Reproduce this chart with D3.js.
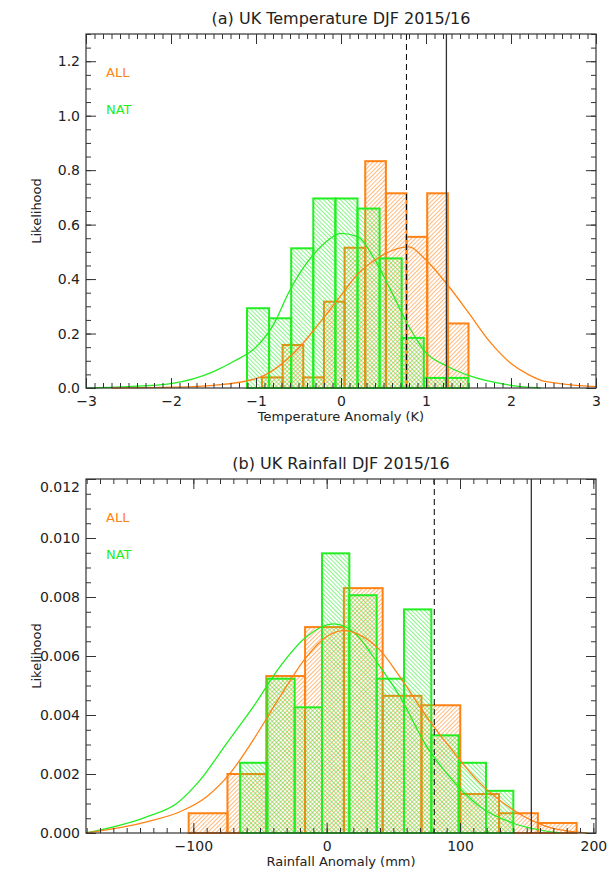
<!DOCTYPE html>
<html>
<head>
<meta charset="utf-8">
<script src="https://cdn.jsdelivr.net/npm/d3@7"></script>
<style>
  body { margin: 0; background: #fff; }
  text { font-family: "DejaVu Sans", sans-serif; fill: #222; }
</style>
</head>
<body>
<svg id="chart" width="609" height="879"></svg>
<script>
// ---- panel (a) temperature ----
const tempAllStart = -0.93, tempAllWidth = 0.243;
const tempAll = [0.039, 0.158, 0.039, 0.317, 0.515, 0.833, 0.715, 0.555, 0.715, 0.237];
const tempNatStart = -1.106, tempNatWidth = 0.26;
const tempNat = [0.293, 0.256, 0.513, 0.696, 0.696, 0.659, 0.476, 0.184, 0.037, 0.037];
const tempNatCurve = [[-3,0],[-2.5,0.005],[-2,0.016],[-1.5,0.06],[-1.25,0.1],[-1,0.15],[-0.8,0.23],[-0.6,0.36],[-0.4,0.46],[-0.2,0.53],[0,0.568],[0.2,0.555],[0.4,0.47],[0.6,0.35],[0.8,0.225],[1,0.13],[1.25,0.08],[1.5,0.046],[2,0.01],[2.35,0]];
const tempAllCurve = [[-2.7,0],[-2,0.003],[-1.5,0.01],[-1,0.034],[-0.5,0.146],[-0.25,0.24],[0,0.34],[0.2,0.42],[0.4,0.47],[0.6,0.505],[0.8,0.518],[1,0.47],[1.25,0.38],[1.5,0.277],[1.75,0.17],[2,0.09],[2.2,0.05],[2.4,0.024],[3,0.005]];
const tempLines = {dashed: 0.77, solid: 1.24};

// ---- panel (b) rainfall ----
const rainAllStart = -103.5, rainAllWidth = 29.1;
const rainAll = [0.00067, 0.002, 0.00532, 0.00698, 0.0083, 0.00465, 0.00433, 0.00132, 0.00067, 0.00034];
const rainNatStart = -65, rainNatWidth = 20.5;
const rainNat = [0.00238, 0.00523, 0.00426, 0.00948, 0.00806, 0.00523, 0.00758, 0.00331, 0.00238, 0.00143];
const rainNatCurve = [[-180.5,0],[-135,0.00055],[-112.5,0.001],[-95,0.00179],[-75,0.00304],[-55,0.00428],[-35,0.00564],[-15,0.00666],[5,0.00709],[20,0.00682],[40,0.00564],[55,0.00462],[75,0.00293],[90,0.00202],[115,0.00089],[140,0.00033],[175,0]];
const rainAllCurve = [[-180.5,0],[-135,0.00038],[-110,0.00072],[-90,0.00123],[-72.5,0.00202],[-55,0.00316],[-35,0.00462],[-15,0.00598],[0,0.00666],[12.5,0.00686],[25,0.00671],[40,0.0062],[55,0.00529],[75,0.00394],[90,0.00304],[115,0.00169],[140,0.00078],[165,0.00022],[195,0]];
const rainLines = {dashed: 80.7, solid: 153.5};

const ORANGE = "#ff8214", GREEN = "#22ee22";

const svg = d3.select("#chart");
const defs = svg.append("defs");
function hatch(id, color, angle) {
  const p = defs.append("pattern").attr("id", id).attr("patternUnits", "userSpaceOnUse")
    .attr("width", 3).attr("height", 3).attr("patternTransform", "rotate(" + angle + ")");
  p.append("line").attr("x1", 0).attr("y1", 0).attr("x2", 0).attr("y2", 3)
    .attr("stroke", color).attr("stroke-width", 1.1);
}
hatch("hatchAll", ORANGE, 45);
hatch("hatchNat", GREEN, -45);

function drawPanel(o) {
  const x = d3.scaleLinear().domain(o.xdom).range([86, 596]);
  const y = d3.scaleLinear().domain(o.ydom).range([o.bottom, o.top]);
  const g = svg.append("g");

  const bars = (vals, start, w, fill, color) => {
    g.selectAll(null).data(vals).enter().append("rect")
      .attr("x", (d, i) => x(start + i * w))
      .attr("width", (d, i) => x(start + (i + 1) * w) - x(start + i * w))
      .attr("y", d => y(d))
      .attr("height", d => y(0) - y(d))
      .attr("fill", fill).attr("stroke", color).attr("stroke-width", 2);
  };
  bars(o.all, o.allStart, o.allW, "url(#hatchAll)", ORANGE);
  bars(o.nat, o.natStart, o.natW, "url(#hatchNat)", GREEN);

  const line = d3.line().x(d => x(d[0])).y(d => y(d[1])).curve(d3.curveMonotoneX);
  g.append("path").attr("d", line(o.natCurve)).attr("fill", "none").attr("stroke", GREEN).attr("stroke-width", 1.3);
  g.append("path").attr("d", line(o.allCurve)).attr("fill", "none").attr("stroke", ORANGE).attr("stroke-width", 1.3);

  g.append("line").attr("x1", x(o.lines.dashed)).attr("x2", x(o.lines.dashed))
    .attr("y1", o.top).attr("y2", o.bottom).attr("stroke", "#000").attr("stroke-dasharray", "6,4");
  g.append("line").attr("x1", x(o.lines.solid)).attr("x2", x(o.lines.solid))
    .attr("y1", o.top).attr("y2", o.bottom).attr("stroke", "#333").attr("stroke-width", 1.3);

  // box + inward ticks on all sides
  g.append("rect").attr("x", 86).attr("y", o.top).attr("width", 510).attr("height", o.bottom - o.top)
    .attr("fill", "none").attr("stroke", "#333").attr("stroke-width", 1.2);
  const tk = (ax, scale, vals, len, fmt, tr) => {
    const a = g.append("g").attr("transform", tr)
      .call(ax(scale).tickValues(vals).tickSize(len).tickSizeOuter(0).tickFormat(fmt));
    a.select(".domain").remove();
    a.selectAll("line").attr("stroke", "#333");
    return a;
  };
  const rng = (a, b, s) => d3.range(Math.round(a / s), Math.round(b / s) + 1).map(i => i * s).filter(v => v >= o.xdom[0] - 1e-9 && v <= o.xdom[1] + 1e-9);
  const xMaj = rng(o.xdom[0], o.xdom[1], o.xMajor), xMin = rng(o.xdom[0], o.xdom[1], o.xMinor);
  const yMaj = d3.range(0, o.ydom[1] + 1e-9, o.yMajor), yMin = d3.range(0, o.ydom[1] + 1e-9, o.yMinor);
  const none = () => "";
  tk(d3.axisBottom, x, xMin, -5, none, `translate(0,${o.bottom})`);
  tk(d3.axisTop, x, xMin, -5, none, `translate(0,${o.top})`);
  tk(d3.axisTop, x, xMaj, -10, none, `translate(0,${o.top})`);
  const bx = tk(d3.axisBottom, x, xMaj, -10, d => d3.format("")(d).replace("-", "\u2212"), `translate(0,${o.bottom})`);
  bx.selectAll("text").attr("y", 8).attr("font-size", 14);
  tk(d3.axisLeft, y, yMin, -5, none, "translate(86,0)");
  tk(d3.axisRight, y, yMin, -5, none, "translate(596,0)");
  tk(d3.axisRight, y, yMaj, -10, none, "translate(596,0)");
  const ly = tk(d3.axisLeft, y, yMaj, -10, d3.format(o.yFmt), "translate(86,0)");
  ly.selectAll("text").attr("x", -6).attr("font-size", 14)
    .attr("dy", d => Math.abs(y(d) - o.top) < 3 ? "0.9em" : "0.32em");

  svg.append("text").attr("x", 341).attr("y", o.top - 10).attr("text-anchor", "middle")
    .attr("font-size", 16).text(o.title);
  svg.append("text").attr("x", 341).attr("y", o.bottom + 33).attr("text-anchor", "middle")
    .attr("font-size", 13).text(o.xlabel);
  svg.append("text").attr("transform", `translate(41,${(o.top + o.bottom) / 2}) rotate(-90)`)
    .attr("text-anchor", "middle").attr("font-size", 13).text("Likelihood");
  svg.append("text").attr("x", 106).attr("y", o.top + 43).attr("font-size", 13).style("fill", ORANGE).text("ALL");
  svg.append("text").attr("x", 106).attr("y", o.top + 80).attr("font-size", 13).style("fill", GREEN).text("NAT");
}

drawPanel({
  xdom: [-3, 3], ydom: [0, 1.3], top: 34, bottom: 388,
  xMajor: 1, xMinor: 0.1, yMajor: 0.2, yMinor: 0.05, yFmt: ".1f",
  all: tempAll, allStart: tempAllStart, allW: tempAllWidth,
  nat: tempNat, natStart: tempNatStart, natW: tempNatWidth,
  allCurve: tempAllCurve, natCurve: tempNatCurve, lines: tempLines,
  title: "(a) UK Temperature DJF 2015/16", xlabel: "Temperature Anomaly (K)"
});
drawPanel({
  xdom: [-180.5, 202], ydom: [0, 0.012], top: 479, bottom: 833,
  xMajor: 100, xMinor: 10, yMajor: 0.002, yMinor: 0.0005, yFmt: ".3f",
  all: rainAll, allStart: rainAllStart, allW: rainAllWidth,
  nat: rainNat, natStart: rainNatStart, natW: rainNatWidth,
  allCurve: rainAllCurve, natCurve: rainNatCurve, lines: rainLines,
  title: "(b) UK Rainfall DJF 2015/16", xlabel: "Rainfall Anomaly (mm)"
});
</script>
</body>
</html>
